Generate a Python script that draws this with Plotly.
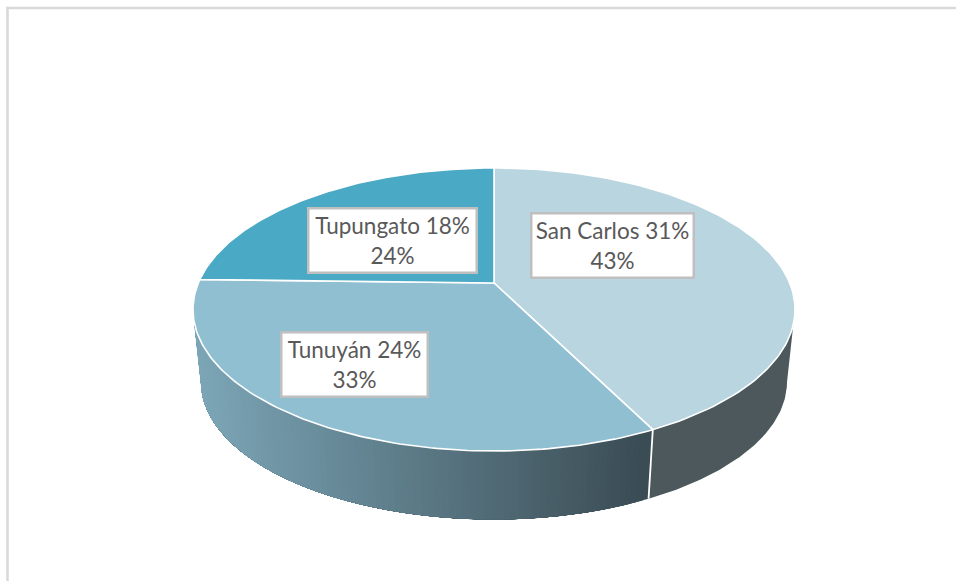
import numpy as np
import plotly.graph_objects as go

# Data (clockwise from 12 o'clock)
categories = ["San Carlos", "Tunuyán", "Tupungato"]
values = [31.2, 24, 18]
value_labels = ["31%", "24%", "18%"]
share_labels = ["43%", "33%", "24%"]
top_colors = ["#B9D5E0", "#90BFD2", "#4AA9C4"]

# Style / layout
W, H = 956, 581
hub_x, hub_y = 494, 283          # perspective centre of the top face
rim_top, rim_bottom = 168, 451
rim_rx = 301
low_cy, low_rx, low_ry = 382, 293, 137.5
box_centres = [(612, 245), (354, 364), (392, 240)]
box_sizes = [(160, 62), (144, 62), (166, 62)]

up = hub_y - rim_top
dn = rim_bottom - hub_y
k = (dn - up) / (dn + up)
b = up * (1 + k)
a = rim_rx * np.sqrt(1 - k ** 2)
top_cy = (rim_top + rim_bottom) / 2
top_ry = (rim_bottom - rim_top) / 2


def rim(frac):
    th = 2 * np.pi * np.asarray(frac)
    u, v = np.sin(th), np.cos(th)
    d = 1 + k * v
    return hub_x + a * u / d, hub_y - b * v / d


def phi_of(frac):
    x, y = rim(frac)
    return np.arctan2((y - top_cy) / top_ry, (x - hub_x) / rim_rx)


def top_pt(phi):
    return hub_x + rim_rx * np.cos(phi), top_cy + top_ry * np.sin(phi)


def low_pt(phi):
    return hub_x + low_rx * np.cos(phi), low_cy + low_ry * np.sin(phi)


def poly(fig, xs, ys, fill, line=None, lw=0):
    fig.add_trace(go.Scatter(x=list(xs), y=list(ys), mode="lines", fill="toself", fillcolor=fill,
                             line=dict(color=line or fill, width=lw), hoverinfo="skip", showlegend=False))


def stroke(fig, xs, ys, color="white", lw=1.6):
    fig.add_trace(go.Scatter(x=list(xs), y=list(ys), mode="lines", line=dict(color=color, width=lw),
                             hoverinfo="skip", showlegend=False))


fig = go.Figure()
cum = np.concatenate([[0], np.cumsum(values)]) / np.sum(values)

phi_start, phi_end = 0.0, np.pi
seam = phi_of(cum[1])

# Side wall: San Carlos (flat dark)
ph = np.linspace(phi_start, seam, 80)
tx, ty = top_pt(ph)
lx, ly = low_pt(ph)
poly(fig, np.r_[tx, lx[::-1]], np.r_[ty, ly[::-1]], "#4C585C")

# Side wall: Tunuyán (horizontal gradient, overlapping bands painted from the far end)
left_c = np.array([125, 167, 184])
right_c = np.array([58, 76, 84])
edges = np.linspace(seam, phi_end, 91)
for p0 in edges[:-1]:
    ph = np.linspace(p0, phi_end, 40)
    tx, ty = top_pt(ph)
    lx, ly = low_pt(ph)
    xm = (tx[0] + lx[0]) / 2
    t = np.clip((xm - 197) / (648 - 197), 0, 1)
    c = left_c + (right_c - left_c) * t
    poly(fig, np.r_[tx, lx[::-1]], np.r_[ty, ly[::-1]], "rgb(%d,%d,%d)" % tuple(c))

sx, sy = top_pt(seam)
ex, ey = low_pt(seam)
stroke(fig, [sx, ex], [sy, ey], lw=1.8)

# Top face
for i in range(len(values)):
    fr = np.linspace(cum[i], cum[i + 1], 120)
    x, y = rim(fr)
    poly(fig, np.r_[hub_x, x, hub_x], np.r_[hub_y, y, hub_y], top_colors[i], "white", 1.6)

annotations = []
for cat, val, sh, (cx, cy), (bw, bh) in zip(categories, value_labels, share_labels, box_centres, box_sizes):
    annotations.append(dict(x=cx, y=cy, xref="x", yref="y", showarrow=False,
                            text=f"{cat} {val}<br>{sh}", align="center",
                            font=dict(family="Lato", size=22.5, color="#595959"),
                            bgcolor="white", bordercolor="#BFBFBF", borderwidth=2.5,
                            width=bw, height=bh, borderpad=0))

fig.update_layout(
    width=W, height=H, autosize=False,
    margin=dict(l=0, r=0, t=0, b=0),
    paper_bgcolor="white", plot_bgcolor="white",
    showlegend=False,
    xaxis=dict(range=[0, W], visible=False, fixedrange=True),
    yaxis=dict(range=[H, 0], visible=False, fixedrange=True),
    annotations=annotations,
    shapes=[
        dict(type="line", x0=7.5, x1=7.5, y0=8, y1=H, line=dict(color="#D9D9D9", width=2.5)),
        dict(type="line", x0=6, x1=W, y0=8, y1=8, line=dict(color="#D9D9D9", width=2.5)),
    ],
)
fig.write_html("out.html", config={"displayModeBar": False},
               post_script="document.body.style.margin='0';document.body.style.overflow='hidden';")
